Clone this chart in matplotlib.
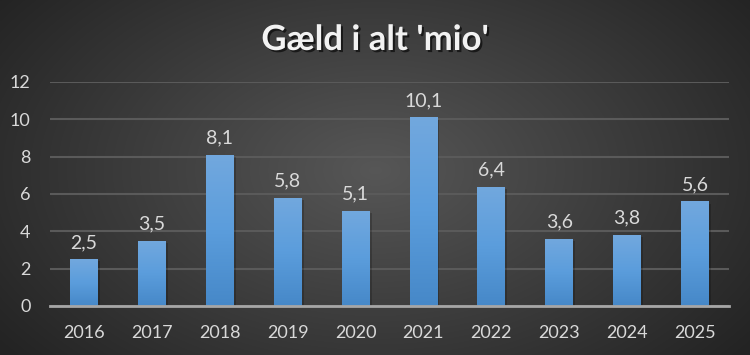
import numpy as np
import matplotlib
matplotlib.use("Agg")
import matplotlib.pyplot as plt
import matplotlib.patheffects as pe

# data
years = ['2016', '2017', '2018', '2019', '2020', '2021', '2022', '2023', '2024', '2025']
debt = [2.5, 3.5, 8.1, 5.8, 5.1, 10.1, 6.4, 3.6, 3.8, 5.6]
value_labels = ['2,5', '3,5', '8,1', '5,8', '5,1', '10,1', '6,4', '3,6', '3,8', '5,6']
title = "Gæld i alt 'mio'"

plt.rcParams['font.family'] = ['Lato', 'DejaVu Sans']

fig = plt.figure(figsize=(7.5, 3.55), dpi=100)

# radial gradient background
bg = fig.add_axes([0, 0, 1, 1], zorder=-10)
yy, xx = np.mgrid[0:355, 0:750]
r = np.sqrt(((xx - 375) / 420.0) ** 2 + ((yy - 170) / 260.0) ** 2)
shade = np.clip(0.34 - 0.18 * r, 0.14, 0.34)
bg.imshow(np.dstack([shade, shade, shade]), aspect='auto', extent=[0, 1, 0, 1])
bg.axis('off')

ax = fig.add_axes([50 / 750, 1 - 306 / 355, 679 / 750, 224 / 355])
ax.set_facecolor('none')
x = np.arange(len(years))
bars = ax.bar(x, debt, width=0.41, color='#5b9bd5', zorder=3)

# vertical gradient inside each bar
grad = np.linspace(0, 1, 256).reshape(-1, 1)
cmap = matplotlib.colors.LinearSegmentedColormap.from_list('bar', ['#4688c8', '#5b9ddc', '#72a8de'])
for b in bars:
    bx, by = b.get_x(), b.get_y()
    w, h = b.get_width(), b.get_height()
    im = ax.imshow(grad, cmap=cmap, aspect='auto', origin='lower',
                   extent=[bx, bx + w, by, by + h], zorder=3)
    im.set_clip_path(b)
    b.set_path_effects([pe.SimplePatchShadow(offset=(1.5, -1.5), shadow_rgbFace='black', alpha=0.2),
                        pe.Normal()])

for xi, v, lab in zip(x, debt, value_labels):
    ax.text(xi, v + 0.45, lab, ha='center', va='bottom', color='#d9d9d9', fontsize=14)

ax.set_xlim(-0.5, len(years) - 0.5)
ax.set_ylim(0, 12)
ax.set_yticks(range(0, 13, 2))
ax.set_xticks(x)
ax.set_xticklabels(years)
ax.tick_params(axis='both', length=0, colors='#d9d9d9', labelsize=13)
ax.tick_params(axis='x', pad=14)
ax.tick_params(axis='y', pad=14)
ax.grid(axis='y', color='#5a5a5a', linewidth=1.5, zorder=0)
for s in ['top', 'right', 'left']:
    ax.spines[s].set_visible(False)
ax.spines['bottom'].set_color('#a6a6a6')
ax.spines['bottom'].set_linewidth(2)
ax.spines['bottom'].set_zorder(4)

fig.text(0.5, 1 - 40 / 355, title, ha='center', va='center', color='#f2f2f2',
         fontsize=25, fontweight='bold',
         path_effects=[pe.withSimplePatchShadow(offset=(1.5, -1.5), shadow_rgbFace='black', alpha=0.6)])

fig.savefig('out.png', dpi=100)
